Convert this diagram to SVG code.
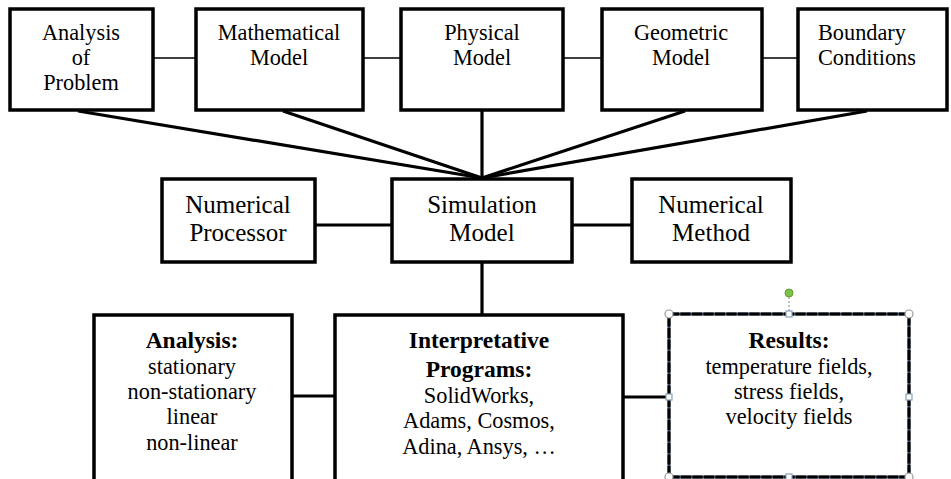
<svg xmlns="http://www.w3.org/2000/svg" width="951" height="479" viewBox="0 0 951 479">
<style>
.box{fill:#fff;stroke:#000;stroke-width:3.5}
.t{fill:#000;text-anchor:middle}
.s22{font-size:22.3px}
.s25{font-size:25px}
.b{font-weight:bold;font-size:23.5px}
.thin{stroke:#000;stroke-width:1.6;fill:none}
.thick{stroke:#000;stroke-width:3.2;fill:none}
.hc{fill:#fff;stroke:#9a9a9a;stroke-width:1.2}
.hs{fill:#fff;stroke:#8aa0bc;stroke-width:1.2}
</style>
<rect width="951" height="479" fill="#fff"/>
<g id="connectors">
<line class="thin" x1="153" y1="58" x2="196" y2="58"/>
<line class="thin" x1="363" y1="58" x2="401" y2="58"/>
<line class="thin" x1="563" y1="58" x2="602" y2="58"/>
<line class="thin" x1="762" y1="58" x2="798" y2="58"/>
<line class="thick" x1="78" y1="111" x2="482" y2="178"/>
<line class="thick" x1="283" y1="111" x2="482" y2="178"/>
<line class="thick" x1="482" y1="111" x2="482" y2="178"/>
<line class="thick" x1="685" y1="111" x2="482" y2="178"/>
<line class="thick" x1="867" y1="111" x2="482" y2="178"/>
<line class="thick" x1="315" y1="225" x2="392" y2="225"/>
<line class="thick" x1="572" y1="225" x2="632" y2="225"/>
<line class="thick" x1="482" y1="262" x2="482" y2="314"/>
<line class="thick" x1="292" y1="396" x2="335" y2="396"/>
<line class="thick" x1="623" y1="397" x2="669" y2="397"/>
</g>
<g font-family="Liberation Serif, DejaVu Serif, serif">
<g id="analysis-of-problem">
<rect class="box" x="10" y="9" width="143" height="101"/>
<text class="t s22" x="81" y="40">Analysis</text>
<text class="t s22" x="81" y="65">of</text>
<text class="t s22" x="81" y="90">Problem</text>
</g>
<g id="mathematical-model">
<rect class="box" x="196" y="9" width="167" height="101"/>
<text class="t s22" x="279" y="40">Mathematical</text>
<text class="t s22" x="279" y="65">Model</text>
</g>
<g id="physical-model">
<rect class="box" x="401" y="9" width="162" height="101"/>
<text class="t s22" x="482" y="40">Physical</text>
<text class="t s22" x="482" y="65">Model</text>
</g>
<g id="geometric-model">
<rect class="box" x="602" y="9" width="160" height="101"/>
<text class="t s22" x="681" y="40">Geometric</text>
<text class="t s22" x="681" y="65">Model</text>
</g>
<g id="boundary-conditions">
<rect class="box" x="798" y="9" width="149" height="101"/>
<text class="t s22" x="818" y="40" style="text-anchor:start">Boundary</text>
<text class="t s22" x="818" y="65" style="text-anchor:start">Conditions</text>
</g>
<g id="numerical-processor">
<rect class="box" x="162" y="179" width="153" height="83"/>
<text class="t s25" x="238" y="213">Numerical</text>
<text class="t s25" x="238" y="241">Processor</text>
</g>
<g id="simulation-model">
<rect class="box" x="392" y="179" width="180" height="83"/>
<text class="t s25" x="482" y="213">Simulation</text>
<text class="t s25" x="482" y="241">Model</text>
</g>
<g id="numerical-method">
<rect class="box" x="632" y="179" width="159" height="83"/>
<text class="t s25" x="711" y="213">Numerical</text>
<text class="t s25" x="711" y="241">Method</text>
</g>
<g id="analysis">
<rect class="box" x="94" y="315" width="198" height="166"/>
<text class="t b" x="192" y="348">Analysis:</text>
<text class="t s22" x="192" y="374">stationary</text>
<text class="t s22" x="192" y="399">non-stationary</text>
<text class="t s22" x="192" y="424">linear</text>
<text class="t s22" x="192" y="450">non-linear</text>
</g>
<g id="interpretative-programs">
<rect class="box" x="335" y="315" width="288" height="166"/>
<text class="t b" x="479" y="348">Interpretative</text>
<text class="t b" x="479" y="377">Programs:</text>
<text class="t s22" x="479" y="403">SolidWorks,</text>
<text class="t s22" x="479" y="428">Adams, Cosmos,</text>
<text class="t s22" x="479" y="454">Adina, Ansys, …</text>
</g>
<g id="results">
<rect x="669" y="314" width="240" height="163" fill="#fff" stroke="#34465e" stroke-width="3"/>
<rect x="669" y="314" width="240" height="163" fill="none" stroke="#000" stroke-width="3" stroke-dasharray="10 1.5"/>
<text class="t b" x="789" y="348">Results:</text>
<text class="t s22" x="789" y="374">temperature fields,</text>
<text class="t s22" x="789" y="399">stress fields,</text>
<text class="t s22" x="789" y="424">velocity fields</text>
<line x1="789" y1="297" x2="789" y2="311" stroke="#7a8a9a" stroke-width="1" stroke-dasharray="2 2"/>
<circle cx="789" cy="293" r="4" fill="#7dc242" stroke="#5f9e35" stroke-width="1"/>
<circle class="hc" cx="669" cy="314" r="4"/>
<circle class="hc" cx="909" cy="314" r="4"/>
<circle class="hc" cx="669" cy="477" r="4"/>
<circle class="hc" cx="909" cy="477" r="4"/>
<rect class="hs" x="786" y="311" width="6" height="6"/>
<rect class="hs" x="666" y="394" width="6" height="6"/>
<rect class="hs" x="906" y="394" width="6" height="6"/>
<rect class="hs" x="786" y="474" width="6" height="6"/>
</g>
</g>
</svg>
